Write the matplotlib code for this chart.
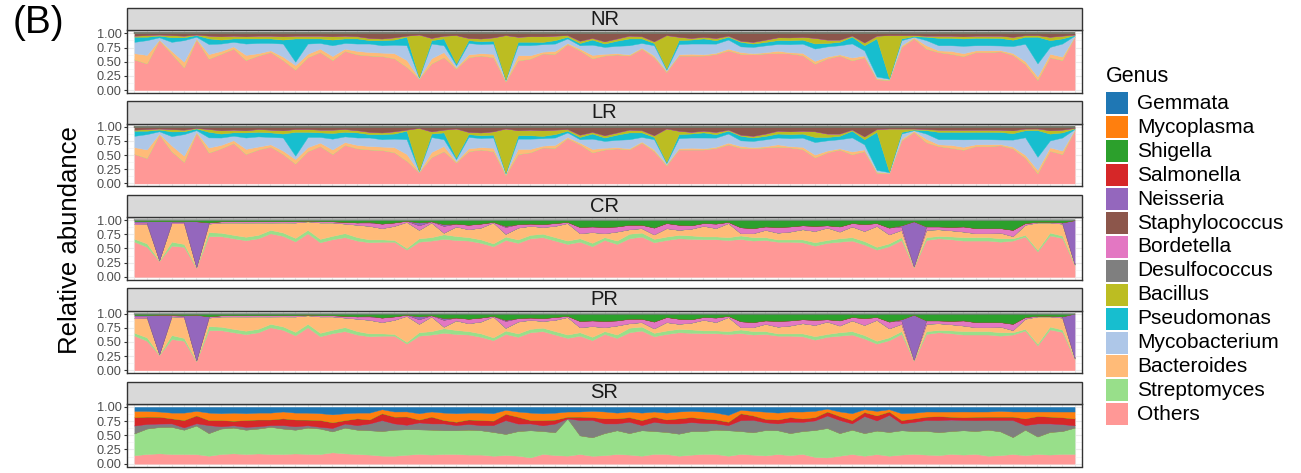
import matplotlib.pyplot as plt
import numpy as np
from matplotlib.patches import Rectangle

plt.rcParams['font.family'] = ['Liberation Sans', 'DejaVu Sans']

genus = ["Gemmata", "Mycoplasma", "Shigella", "Salmonella", "Neisseria",
         "Staphylococcus", "Bordetella", "Desulfococcus", "Bacillus",
         "Pseudomonas", "Mycobacterium", "Bacteroides", "Streptomyces", "Others"]
colors = ["#1F77B4", "#FF7F0E", "#2CA02C", "#D62728", "#9467BD",
          "#8C564B", "#E377C2", "#7F7F7F", "#BCBD22",
          "#17BECF", "#AEC7E8", "#FFBB78", "#98DF8A", "#FF9896"]
groups = ["NR", "LR", "CR", "PR", "SR"]
n_samples = 77

# ---- NR (abundance, %) ----
nr_others = [54, 47, 88, 64, 40, 89, 56, 64, 73, 53,
             61, 67, 53, 36, 58, 67, 53, 69, 63, 61,
             60, 56, 41, 20, 47, 58, 38, 58, 61, 58,
             15, 53, 56, 64, 64, 81, 70, 56, 61, 63,
             61, 73, 58, 32, 61, 61, 61, 63, 70, 64,
             63, 64, 66, 64, 61, 47, 56, 61, 53, 58,
             19, 18, 76, 91, 73, 67, 64, 60, 67, 67,
             67, 61, 45, 18, 58, 53, 94]
nr_bacteroides = [11, 15, 1, 5, 10, 2, 8, 5, 4, 9,
                  4, 3, 6, 8, 6, 6, 7, 4, 6, 6,
                  6, 9, 12, 1, 9, 9, 2, 5, 4, 6,
                  2, 9, 6, 3, 5, 2, 3, 6, 3, 2,
                  2, 2, 3, 2, 2, 3, 2, 2, 3, 3,
                  2, 2, 4, 2, 4, 5, 3, 2, 5, 3,
                  2, 1, 3, 2, 6, 3, 5, 5, 3, 3,
                  2, 3, 5, 6, 6, 6, 1]
nr_mycobacterium = [20, 26, 4, 16, 38, 3, 18, 13, 8, 20,
                    18, 13, 23, 6, 18, 10, 19, 10, 13, 15,
                    13, 15, 26, 1, 26, 12, 4, 20, 16, 18,
                    1, 18, 18, 13, 13, 8, 6, 18, 12, 13,
                    16, 8, 18, 2, 18, 18, 19, 16, 16, 10,
                    11, 12, 12, 14, 16, 22, 18, 16, 25, 9,
                    3, 1, 9, 1, 9, 9, 10, 13, 9, 9,
                    8, 12, 30, 23, 12, 23, 1]
nr_pseudomonas = [9, 6, 3, 8, 5, 3, 10, 7, 6, 9,
                  8, 8, 7, 41, 9, 8, 10, 8, 9, 6,
                  9, 9, 15, 1, 6, 12, 3, 5, 5, 5,
                  1, 6, 6, 4, 6, 3, 4, 9, 6, 9,
                  12, 8, 4, 2, 7, 7, 9, 6, 5, 8,
                  6, 6, 7, 7, 7, 9, 6, 6, 12, 9,
                  67, 1, 3, 1, 6, 13, 13, 13, 13, 13,
                  13, 11, 12, 47, 12, 9, 1]
nr_bacillus = [2, 3, 2, 4, 3, 1, 5, 6, 5, 4,
               5, 5, 6, 5, 5, 5, 6, 5, 4, 4,
               3, 4, 2, 75, 4, 5, 50, 4, 5, 6,
               78, 9, 10, 10, 8, 3, 4, 3, 4, 4,
               5, 4, 3, 59, 6, 3, 3, 4, 2, 2,
               3, 4, 5, 5, 5, 10, 6, 4, 2, 5,
               5, 76, 6, 2, 2, 4, 4, 4, 4, 4,
               4, 5, 3, 3, 6, 5, 1]
nr_staphylococcus = [4, 3, 2, 3, 4, 2, 4, 5, 4, 5,
                     4, 4, 5, 4, 4, 4, 5, 4, 5, 8,
                     9, 7, 4, 2, 8, 4, 3, 8, 9, 7,
                     3, 6, 5, 5, 4, 3, 13, 8, 14, 9,
                     4, 5, 14, 3, 6, 8, 6, 8, 4, 13,
                     15, 11, 7, 7, 6, 8, 11, 11, 4, 16,
                     4, 3, 3, 3, 4, 4, 4, 5, 4, 4,
                     4, 6, 3, 3, 6, 4, 2]

# ---- LR ----
lr_others = [52, 45, 86, 55, 38, 89, 55, 62, 72, 52,
             60, 65, 52, 35, 57, 66, 52, 68, 62, 60,
             59, 55, 40, 20, 46, 57, 37, 57, 60, 57,
             15, 52, 55, 63, 63, 80, 69, 55, 60, 62,
             60, 72, 57, 32, 60, 60, 60, 62, 69, 63,
             62, 63, 65, 63, 60, 46, 55, 60, 52, 57,
             19, 18, 75, 90, 72, 66, 63, 59, 66, 66,
             66, 60, 44, 18, 57, 52, 93]
lr_bacteroides = [12, 15, 2, 10, 11, 2, 9, 6, 5, 9,
                  5, 4, 6, 8, 7, 6, 8, 5, 6, 6,
                  6, 9, 12, 1, 9, 9, 2, 5, 4, 6,
                  2, 9, 6, 3, 5, 2, 3, 6, 3, 2,
                  2, 2, 3, 2, 2, 3, 2, 2, 3, 3,
                  2, 2, 4, 2, 4, 5, 3, 2, 5, 3,
                  2, 1, 3, 2, 6, 3, 5, 5, 3, 3,
                  2, 3, 5, 6, 6, 6, 1]
lr_mycobacterium = [20, 27, 4, 16, 38, 3, 18, 13, 8, 20,
                    18, 13, 23, 6, 18, 10, 19, 10, 13, 15,
                    13, 15, 26, 1, 26, 12, 4, 20, 16, 18,
                    1, 18, 18, 13, 13, 8, 6, 18, 12, 13,
                    16, 8, 18, 2, 18, 18, 19, 16, 16, 10,
                    11, 12, 12, 14, 16, 22, 18, 16, 25, 9,
                    3, 1, 9, 1, 9, 9, 10, 13, 9, 9,
                    8, 12, 30, 23, 12, 23, 1]
lr_pseudomonas = [9, 6, 3, 8, 5, 3, 10, 7, 6, 9,
                  8, 8, 7, 42, 9, 8, 10, 8, 9, 6,
                  9, 9, 15, 1, 6, 12, 3, 5, 5, 5,
                  1, 6, 6, 4, 6, 3, 4, 9, 6, 9,
                  12, 8, 4, 2, 7, 7, 9, 6, 5, 8,
                  6, 6, 7, 7, 7, 9, 6, 6, 12, 9,
                  67, 1, 3, 1, 6, 13, 13, 13, 13, 13,
                  13, 11, 12, 47, 12, 9, 1]
lr_bacillus = [2, 3, 2, 4, 3, 1, 5, 6, 5, 4,
               5, 5, 6, 5, 5, 5, 6, 5, 4, 4,
               3, 4, 2, 75, 4, 5, 51, 4, 5, 6,
               78, 9, 10, 10, 8, 3, 4, 3, 4, 4,
               5, 4, 3, 59, 6, 3, 3, 4, 2, 2,
               3, 4, 5, 5, 5, 10, 6, 4, 2, 5,
               5, 76, 6, 2, 2, 4, 4, 4, 4, 4,
               4, 5, 3, 3, 6, 5, 1]
lr_staphylococcus = [5, 4, 3, 4, 5, 2, 4, 6, 5, 6,
                     4, 5, 6, 4, 4, 5, 5, 4, 6, 9,
                     10, 8, 5, 2, 8, 5, 3, 9, 10, 8,
                     3, 6, 5, 6, 5, 4, 14, 9, 15, 10,
                     5, 6, 15, 3, 7, 9, 7, 9, 5, 14,
                     16, 12, 7, 8, 7, 8, 12, 12, 5, 17,
                     4, 3, 3, 3, 4, 5, 5, 5, 5, 5,
                     5, 6, 3, 3, 6, 5, 2]

# ---- CR ----
cr_others = [62, 53, 28, 55, 53, 16, 71, 71, 68, 64,
             68, 76, 73, 62, 76, 61, 67, 70, 64, 61,
             62, 62, 48, 62, 64, 67, 65, 64, 60, 54,
             65, 60, 68, 70, 64, 58, 62, 54, 65, 58,
             68, 71, 61, 65, 68, 67, 67, 67, 65, 64,
             64, 65, 62, 62, 61, 55, 60, 62, 64, 57,
             48, 54, 65, 17, 65, 68, 67, 64, 64, 64,
             62, 64, 71, 45, 73, 68, 21]
cr_streptomyces = [5, 6, 1, 7, 5, 1, 7, 6, 6, 6,
                   6, 6, 6, 6, 6, 6, 6, 7, 6, 5,
                   4, 3, 3, 6, 6, 8, 7, 6, 6, 5,
                   6, 6, 6, 6, 6, 6, 6, 6, 5, 6,
                   8, 7, 6, 6, 6, 6, 5, 5, 5, 6,
                   6, 5, 4, 4, 5, 6, 5, 6, 6, 6,
                   5, 5, 5, 1, 5, 4, 5, 6, 6, 6,
                   6, 4, 3, 3, 5, 4, 1]
cr_bacteroides = [26, 35, 1, 33, 37, 1, 15, 18, 22, 25,
                  22, 13, 18, 27, 15, 29, 24, 17, 22, 24,
                  20, 25, 46, 15, 26, 3, 17, 14, 21, 37,
                  5, 21, 16, 12, 20, 31, 9, 19, 7, 16,
                  8, 8, 8, 15, 9, 12, 19, 15, 25, 4,
                  7, 13, 12, 14, 18, 20, 22, 12, 19, 18,
                  37, 16, 13, 1, 13, 12, 11, 10, 7, 7,
                  10, 4, 18, 48, 18, 21, 1]
cr_bordetella = [3, 2, 0, 2, 2, 0, 2, 2, 2, 2,
                 2, 2, 2, 2, 1, 2, 2, 3, 4, 6,
                 8, 6, 2, 8, 2, 12, 5, 8, 7, 1,
                 12, 6, 4, 5, 5, 2, 11, 10, 11, 9,
                 8, 6, 12, 9, 9, 6, 5, 8, 2, 10,
                 9, 6, 10, 9, 7, 9, 4, 9, 6, 12,
                 5, 12, 6, 0, 6, 5, 6, 9, 9, 9,
                 8, 11, 3, 1, 1, 2, 0]
cr_neisseria = [2, 2, 68, 1, 1, 80, 0, 0, 0, 0,
                0, 0, 0, 0, 0, 0, 0, 0, 0, 1,
                0, 0, 0, 5, 0, 3, 0, 0, 0, 0,
                2, 0, 0, 0, 0, 0, 0, 0, 0, 0,
                0, 0, 0, 0, 0, 0, 0, 0, 0, 0,
                0, 0, 0, 0, 0, 0, 0, 0, 0, 0,
                0, 0, 2, 79, 0, 0, 0, 0, 0, 0,
                0, 0, 0, 0, 0, 0, 77]
cr_shigella = [2, 2, 2, 2, 2, 2, 4, 2, 2, 2,
               2, 2, 2, 2, 1, 2, 2, 3, 4, 3,
               6, 4, 1, 4, 2, 7, 6, 8, 6, 3,
               10, 7, 6, 7, 5, 3, 12, 11, 12, 11,
               8, 8, 13, 5, 8, 9, 5, 6, 3, 12,
               14, 11, 12, 11, 9, 10, 9, 11, 5, 7,
               5, 13, 9, 2, 11, 11, 12, 11, 14, 14,
               14, 17, 5, 3, 3, 4, 0]

# ---- PR ----
pr_others = [61, 52, 27, 55, 52, 16, 70, 70, 67, 63,
             67, 75, 72, 61, 75, 60, 66, 69, 63, 60,
             61, 61, 47, 61, 63, 66, 64, 63, 59, 53,
             64, 59, 67, 69, 63, 57, 61, 53, 64, 57,
             67, 70, 60, 64, 67, 66, 66, 66, 64, 63,
             63, 64, 61, 61, 60, 54, 59, 61, 63, 56,
             47, 53, 64, 17, 64, 67, 66, 63, 63, 63,
             61, 63, 70, 44, 72, 67, 20]
pr_streptomyces = [5, 6, 1, 7, 5, 1, 7, 6, 6, 6,
                   6, 6, 6, 6, 6, 6, 6, 7, 6, 5,
                   4, 3, 3, 6, 6, 8, 7, 6, 6, 5,
                   6, 6, 6, 6, 6, 6, 6, 6, 5, 6,
                   8, 7, 6, 6, 6, 6, 5, 5, 5, 6,
                   6, 5, 4, 4, 5, 6, 5, 6, 6, 6,
                   5, 5, 5, 1, 5, 4, 5, 6, 6, 6,
                   6, 4, 3, 3, 5, 4, 1]
pr_bacteroides = [26, 35, 1, 33, 37, 1, 15, 18, 22, 25,
                  22, 13, 18, 27, 15, 29, 24, 17, 22, 24,
                  20, 25, 46, 15, 26, 3, 17, 14, 21, 37,
                  5, 21, 16, 12, 20, 31, 9, 19, 7, 16,
                  8, 8, 8, 15, 9, 12, 19, 15, 25, 4,
                  7, 13, 12, 14, 18, 20, 22, 12, 19, 18,
                  37, 16, 13, 1, 13, 12, 11, 10, 7, 7,
                  10, 4, 18, 48, 18, 21, 1]
pr_bordetella = [3, 2, 0, 2, 2, 0, 2, 2, 2, 2,
                 2, 2, 2, 2, 1, 2, 2, 3, 4, 6,
                 8, 6, 2, 8, 2, 12, 5, 8, 7, 1,
                 12, 6, 4, 5, 5, 2, 11, 10, 11, 9,
                 8, 6, 12, 9, 9, 6, 5, 8, 2, 10,
                 9, 6, 10, 9, 7, 9, 4, 9, 6, 12,
                 5, 12, 6, 0, 6, 5, 6, 9, 9, 9,
                 8, 11, 3, 1, 1, 2, 0]
pr_neisseria = [2, 2, 69, 1, 1, 80, 0, 0, 0, 0,
                0, 0, 0, 0, 0, 0, 0, 0, 0, 1,
                0, 0, 0, 5, 0, 3, 0, 0, 0, 0,
                2, 0, 0, 0, 0, 0, 0, 0, 0, 0,
                0, 0, 0, 0, 0, 0, 0, 0, 0, 0,
                0, 0, 0, 0, 0, 0, 0, 0, 0, 0,
                0, 0, 2, 79, 0, 0, 0, 0, 0, 0,
                0, 0, 0, 0, 0, 0, 78]
pr_shigella = [3, 3, 2, 2, 3, 2, 5, 3, 3, 3,
               3, 3, 3, 3, 2, 3, 3, 4, 5, 4,
               7, 5, 2, 5, 3, 8, 7, 9, 7, 4,
               11, 8, 7, 8, 6, 4, 13, 12, 13, 12,
               9, 9, 14, 6, 9, 10, 6, 7, 4, 13,
               15, 12, 13, 12, 10, 11, 10, 12, 6, 8,
               6, 14, 10, 2, 12, 12, 13, 12, 15, 15,
               15, 18, 6, 4, 4, 5, 0]

# ---- SR ----
sr_others = [15, 17, 18, 17, 17, 17, 14, 17, 18, 17,
             18, 17, 17, 18, 17, 17, 20, 18, 17, 16,
             14, 14, 16, 17, 16, 17, 17, 16, 16, 14,
             15, 14, 11, 17, 15, 14, 17, 14, 15, 17,
             16, 14, 17, 17, 14, 16, 17, 17, 14, 17,
             16, 14, 17, 15, 17, 12, 11, 14, 17, 14,
             17, 14, 16, 17, 16, 15, 17, 16, 17, 14,
             15, 17, 15, 17, 16, 17, 17]
sr_streptomyces = [39, 45, 46, 48, 43, 51, 40, 45, 45, 43,
                   44, 48, 45, 42, 46, 45, 37, 45, 43, 43,
                   43, 46, 46, 43, 44, 42, 42, 44, 43, 42,
                   37, 43, 48, 40, 40, 65, 33, 33, 39, 42,
                   38, 45, 40, 39, 39, 42, 40, 43, 45, 40,
                   40, 43, 42, 39, 40, 48, 52, 40, 43, 40,
                   42, 42, 43, 40, 42, 40, 40, 43, 40, 46,
                   42, 30, 45, 31, 40, 40, 46]
sr_desulfococcus = [14, 8, 6, 6, 4, 4, 14, 4, 4, 5,
                    4, 3, 6, 6, 4, 3, 6, 7, 8, 12,
                    19, 11, 8, 12, 11, 12, 9, 10, 9, 12,
                    24, 13, 12, 10, 15, 0, 27, 31, 17, 12,
                    20, 9, 16, 15, 18, 16, 14, 11, 9, 19,
                    22, 13, 12, 20, 16, 17, 22, 23, 11, 30,
                    18, 30, 12, 16, 19, 21, 20, 18, 19, 17,
                    20, 30, 8, 23, 15, 12, 4]
sr_salmonella = [15, 13, 12, 9, 13, 14, 9, 11, 8, 12,
                 12, 10, 12, 12, 10, 12, 10, 6, 12, 7,
                 12, 12, 15, 5, 12, 6, 6, 8, 9, 8,
                 11, 12, 6, 9, 7, 3, 6, 5, 9, 9,
                 8, 9, 9, 7, 9, 9, 8, 7, 6, 12,
                 8, 6, 7, 8, 6, 6, 7, 7, 6, 7,
                 9, 6, 6, 6, 6, 7, 5, 5, 6, 6,
                 6, 6, 12, 13, 12, 12, 12]
sr_mycoplasma = [11, 10, 9, 10, 13, 8, 13, 12, 14, 12,
                 12, 12, 12, 12, 12, 12, 14, 12, 10, 12,
                 7, 9, 9, 11, 9, 13, 15, 12, 13, 13,
                 7, 9, 13, 12, 12, 9, 9, 11, 12, 10,
                 10, 13, 9, 12, 12, 11, 12, 12, 12, 6,
                 8, 12, 12, 10, 12, 11, 5, 8, 12, 5,
                 8, 4, 12, 10, 9, 8, 9, 10, 9, 9,
                 10, 9, 12, 8, 9, 10, 12]
sr_gemmata = [7, 7, 8, 10, 10, 7, 10, 11, 10, 11,
              10, 10, 8, 10, 10, 11, 13, 11, 10, 10,
              4, 8, 8, 11, 8, 10, 11, 10, 10, 11,
              5, 8, 10, 11, 10, 8, 8, 7, 8, 10,
              8, 10, 8, 10, 8, 7, 8, 10, 14, 5,
              7, 8, 10, 8, 8, 7, 3, 8, 11, 4,
              7, 4, 11, 10, 8, 8, 8, 8, 8, 8,
              7, 8, 8, 8, 8, 8, 8]

tables = {
    "NR": {"Others": nr_others, "Bacteroides": nr_bacteroides,
           "Mycobacterium": nr_mycobacterium, "Pseudomonas": nr_pseudomonas,
           "Bacillus": nr_bacillus, "Staphylococcus": nr_staphylococcus},
    "LR": {"Others": lr_others, "Bacteroides": lr_bacteroides,
           "Mycobacterium": lr_mycobacterium, "Pseudomonas": lr_pseudomonas,
           "Bacillus": lr_bacillus, "Staphylococcus": lr_staphylococcus},
    "CR": {"Others": cr_others, "Streptomyces": cr_streptomyces,
           "Bacteroides": cr_bacteroides, "Bordetella": cr_bordetella,
           "Neisseria": cr_neisseria, "Shigella": cr_shigella},
    "PR": {"Others": pr_others, "Streptomyces": pr_streptomyces,
           "Bacteroides": pr_bacteroides, "Bordetella": pr_bordetella,
           "Neisseria": pr_neisseria, "Shigella": pr_shigella},
    "SR": {"Others": sr_others, "Streptomyces": sr_streptomyces,
           "Desulfococcus": sr_desulfococcus, "Salmonella": sr_salmonella,
           "Mycoplasma": sr_mycoplasma, "Gemmata": sr_gemmata},
}

W, H = 1301, 473
fig = plt.figure(figsize=(W / 100, H / 100), dpi=100)

def fx(px):
    return px / W

def fy(py):
    return 1 - py / H

left, right = 127, 1082
x = np.arange(n_samples)
stack_order = genus[::-1]   # Others at the bottom
stack_colors = colors[::-1]

for k, g in enumerate(groups):
    top = 30.5 + 93.4 * k
    bottom = 92.9 + 93.4 * k
    ax = fig.add_axes([fx(left), fy(bottom), fx(right - left), (bottom - top) / H])

    vals = np.array([tables[g].get(name, [0] * n_samples) for name in stack_order], dtype=float)
    rel = vals / vals.sum(axis=0)
    ax.stackplot(x, rel, colors=stack_colors, edgecolor='face', linewidth=0.3, zorder=2)

    ax.set_xlim(-0.6, n_samples - 0.4)
    ax.set_ylim(-0.05, 1.05)
    ax.set_yticks([0, 0.25, 0.5, 0.75, 1.0])
    ax.set_yticklabels(["0.00", "0.25", "0.50", "0.75", "1.00"])
    ax.set_yticks([0.125, 0.375, 0.625, 0.875], minor=True)
    ax.set_xticks(x)
    ax.tick_params(axis='x', length=0, labelbottom=False)
    ax.tick_params(axis='y', which='major', length=2.5, width=0.8, color='#333333',
                   labelsize=9.2, labelcolor='#4D4D4D', pad=1.5)
    ax.tick_params(axis='y', which='minor', length=0)
    ax.grid(True, which='major', color='#EBEBEB', linewidth=0.8, zorder=0)
    ax.grid(True, which='minor', axis='y', color='#F3F3F3', linewidth=0.5, zorder=0)
    ax.set_axisbelow(True)
    for s in ax.spines.values():
        s.set_color('#333333')
        s.set_linewidth(1.0)

    # facet strip
    s_top = 8 + 93.4 * k
    fig.patches.append(Rectangle((fx(left), fy(top)), fx(right - left), (top - s_top) / H,
                                 transform=fig.transFigure, facecolor='#D9D9D9',
                                 edgecolor='#333333', linewidth=1.0))
    fig.text(fx((left + right) / 2), fy((s_top + top) / 2), g, ha='center', va='center',
             fontsize=14.5, color='#1A1A1A')

fig.text(fx(70), fy(240), "Relative abundance", rotation=90, ha='center', va='center',
         fontsize=18.5, color='black')
fig.text(fx(13), fy(5), "(B)", ha='left', va='top', fontsize=28, color='black')

# legend
fig.text(fx(1106), fy(76), "Genus", ha='left', va='center', fontsize=15.5, color='black')
for j, (name, c) in enumerate(zip(genus, colors)):
    cy = 103.5 + 23.9 * j
    fig.patches.append(Rectangle((fx(1106), fy(cy + 11)), fx(22), 22 / H,
                                 transform=fig.transFigure, facecolor=c, edgecolor='none'))
    fig.text(fx(1137), fy(cy), name, ha='left', va='center', fontsize=15, color='black')

fig.savefig("out.png", dpi=100)
